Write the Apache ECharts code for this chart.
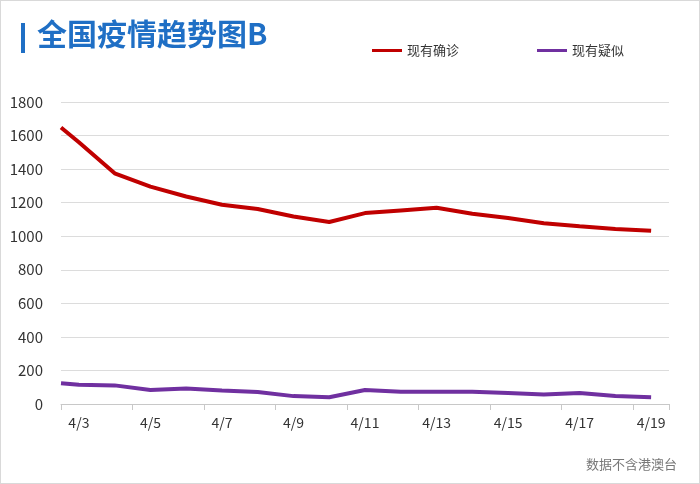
<!DOCTYPE html>
<html>
<head>
<meta charset="utf-8">
<script src="https://cdn.jsdelivr.net/npm/echarts@6/dist/echarts.min.js"></script>
<style>
  html, body { margin: 0; padding: 0; background: #fff; }
  #chart { width: 700px; height: 484px; box-sizing: border-box; border: 1px solid #d9d9d9; }
</style>
</head>
<body>
<div id="chart"></div>
<script>
// 日期
var dates = ['4/3','4/4','4/5','4/6','4/7','4/8','4/9','4/10','4/11','4/12','4/13','4/14','4/15','4/16','4/17','4/18','4/19'];
// 线从坐标轴左边缘开始（半格之前）
var leadConfirmed = 1648;
var leadSuspect = 124;
var confirmed = [1560,1375,1296,1237,1188,1162,1118,1085,1138,1154,1170,1134,1108,1077,1059,1043,1033];
var suspect   = [115,111,83,93,81,71,47,40,83,73,73,73,65,57,65,47,40];

function toPoints(lead, arr) {
    var pts = [[-0.5, lead]];
    arr.forEach(function (v, i) { pts.push([i, v]); });
    return pts;
}

var font = '"Microsoft YaHei","Noto Sans CJK SC",sans-serif';
var chart = echarts.init(document.getElementById('chart'));

chart.setOption({
    animation: false,
    textStyle: { fontFamily: font },
    graphic: [
        { type: 'rect', left: 20, top: 22, shape: { width: 4, height: 30 }, style: { fill: '#1f6fc5' } },
        { type: 'text', left: 36, top: 18, style: { text: '全国疫情趋势图B', fill: '#1f6fc5', font: 'bold 30px ' + font } },
        { type: 'text', right: 22, bottom: 12, style: { text: '数据不含港澳台', fill: '#777', font: '13px ' + font } }
    ],
    legend: {
        top: 38, right: 70, itemGap: 78, itemWidth: 30, itemHeight: 3,
        icon: 'rect',
        textStyle: { fontSize: 13, color: '#333' },
        data: ['现有确诊', '现有疑似']
    },
    grid: { left: 60, right: 30, top: 101, bottom: 79 },
    xAxis: [{
        type: 'category',
        data: dates,
        boundaryGap: true,
        axisLine: { lineStyle: { color: '#c8c8c8' } },
        axisTick: { show: true, length: 6, lineStyle: { color: '#c8c8c8' } },
        axisLabel: { color: '#333', fontSize: 14, margin: 12 }
    }, {
        type: 'value', min: -0.5, max: 16.5, show: false
    }],
    yAxis: {
        type: 'value', min: 0, max: 1800, interval: 200,
        axisLine: { show: false }, axisTick: { show: false },
        axisLabel: { color: '#333', fontSize: 15, margin: 18, formatter: function (v) { return String(v); } },
        splitLine: { lineStyle: { color: '#dcdcdc' } }
    },
    series: [{
        name: '现有确诊', type: 'line', xAxisIndex: 1,
        data: toPoints(leadConfirmed, confirmed),
        showSymbol: false, symbol: 'none',
        lineStyle: { width: 4, color: '#c00000' }, itemStyle: { color: '#c00000' }
    }, {
        name: '现有疑似', type: 'line', xAxisIndex: 1,
        data: toPoints(leadSuspect, suspect),
        showSymbol: false, symbol: 'none',
        lineStyle: { width: 4, color: '#7030a0' }, itemStyle: { color: '#7030a0' }
    }]
});
</script>
</body>
</html>
